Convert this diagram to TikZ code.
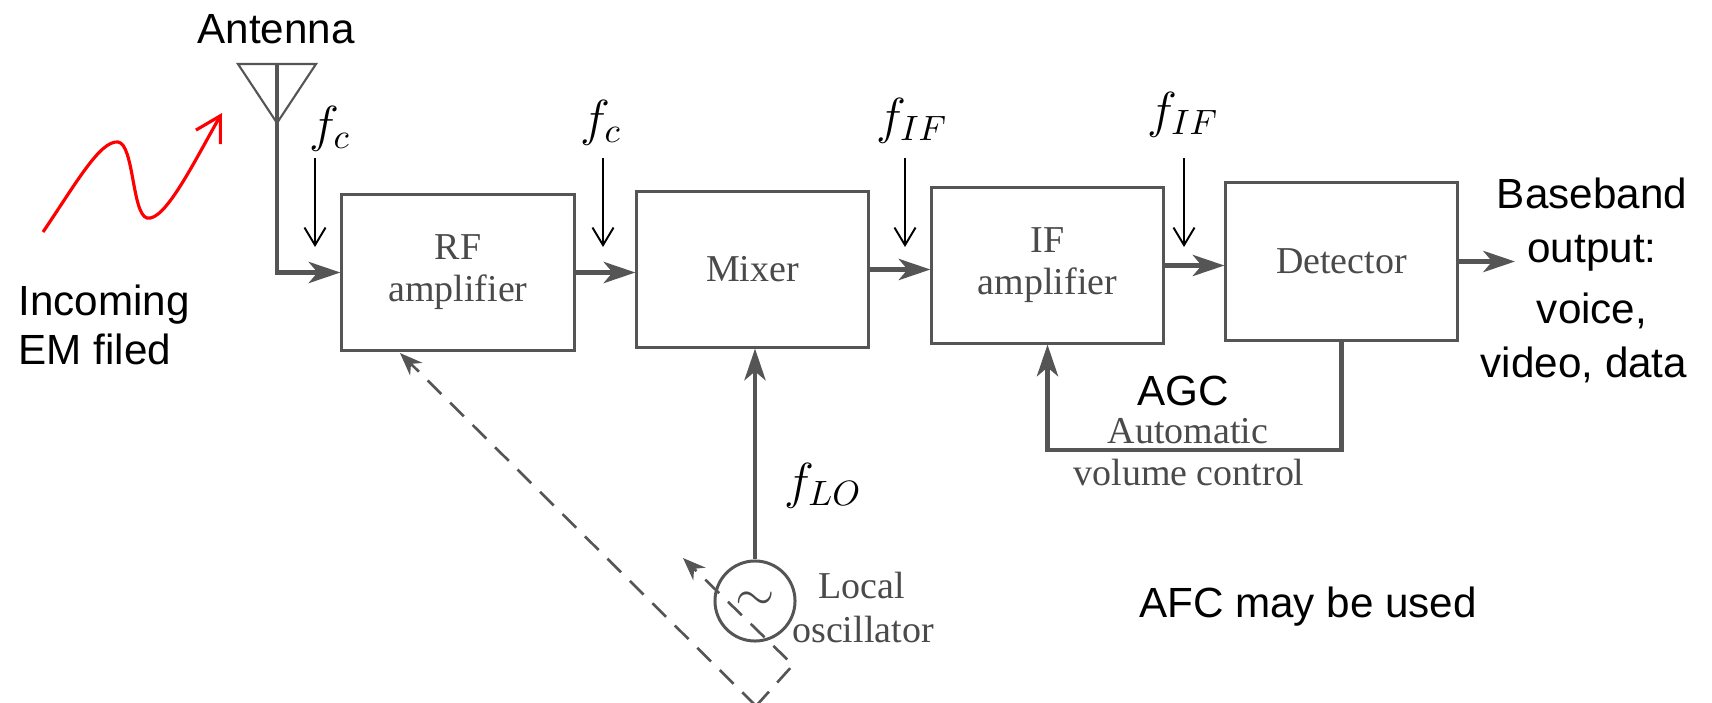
\documentclass[tikz,border=0pt]{standalone}
\usepackage{fontspec}
\setmainfont{Liberation Sans}
\newfontfamily\timesf{Liberation Serif}
\usetikzlibrary{arrows.meta}
\definecolor{boxgray}{HTML}{555555}
\definecolor{txtgray}{HTML}{4A4A4A}
\tikzset{
 blk/.style={draw=boxgray, line width=0.85pt, rectangle, inner sep=0pt, font=\timesf\fontsize{10.8}{12}\selectfont, text=txtgray, align=center},
 sig/.style={draw=boxgray, line width=1.4pt, -{Stealth[length=9pt,width=6pt,inset=2.5pt]}},
 freq/.style={black, line width=0.55pt, -{Straight Barb[length=5pt,width=6pt]}},
 mlabel/.style={anchor=base, inner sep=0pt, font=\fontsize{14.4}{16}\selectfont},
 sans/.style={anchor=base, inner sep=0pt, font=\fontsize{12}{14}\selectfont, text=black},
 afc/.style={draw=boxgray, line width=0.75pt, dash pattern=on 5.5pt off 3.5pt, -{Stealth[length=6.5pt,width=5pt]}},
 serif/.style={anchor=base, inner sep=0pt, font=\timesf\fontsize{10.8}{12}\selectfont, text=txtgray, align=center},
}
\begin{document}
\begin{tikzpicture}[x=0.01cm, y=-0.01cm]
\fill[white] (0,0) rectangle (1712,703);
\useasboundingbox (0,0) rectangle (1712,703);

% blocks
\node[blk, minimum width=2.32cm, minimum height=1.55cm] (RF) at (458,272.5) {RF\\amplifier};
\node[blk, minimum width=2.31cm, minimum height=1.55cm] (MX) at (752.5,269.5) {Mixer};
\node[blk, minimum width=2.31cm, minimum height=1.55cm] (IF) at (1047.5,265.5) {IF\\amplifier};
\node[blk, minimum width=2.31cm, minimum height=1.57cm] (DT) at (1341.5,261.5) {Detector};
\node[circle, draw=boxgray, line width=0.85pt, minimum size=0.8cm, inner sep=0pt, text=txtgray, font=\fontsize{14.4}{16}\selectfont] (osc) at (755,601) {$\sim$};

% antenna
\coordinate (tl) at (238,64);
\coordinate (tr) at (316,64);
\coordinate (tp) at (277,123);
\coordinate (mastTop) at (277,64);
\draw[boxgray, line width=0.6pt] (tl) -- (tr) -- (tp) -- cycle;
\draw[sig] (mastTop) |- (RF.west);

% signal chain
\coordinate (out) at (1515,261.5);
\draw[sig] (RF.east) -- (RF.east -| MX.west);
\draw[sig] (MX.east) -- (MX.east -| IF.west);
\draw[sig] (IF.east) -- (IF.east -| DT.west);
\draw[sig] (DT.east) -- (out);
\draw[sig] (osc.north) -- (osc.north |- MX.south);
\coordinate (agc) at (1047.5,450);
\draw[sig] (DT.south) |- (agc) -- (IF.south);

% AFC dashed loop
\coordinate (dA) at (400,353);
\coordinate (dV) at (756,706);
\coordinate (dC) at (793,665);
\coordinate (dB) at (683,558);
\draw[afc] (dV) -- (dA);
\draw[afc] (dV) -- (dC) -- (dB);

% frequency markers
\coordinate (f1s) at (315,158); \coordinate (f1e) at (315,247);
\coordinate (f2s) at (603,158); \coordinate (f2e) at (603,247);
\coordinate (f3s) at (905,158); \coordinate (f3e) at (905,247);
\coordinate (f4s) at (1184,158); \coordinate (f4e) at (1184,247);
\draw[freq] (f1s) -- (f1e);
\draw[freq] (f2s) -- (f2e);
\draw[freq] (f3s) -- (f3e);
\draw[freq] (f4s) -- (f4e);
\node[mlabel] (lfc1) at (330,141) {$f_c$};
\node[mlabel] (lfc2) at (601,135) {$f_c$};
\node[mlabel] (lif1) at (912,133) {$f_{IF}$};
\node[mlabel] (lif2) at (1183,127) {$f_{IF}$};
\node[mlabel] (llo) at (823,498) {$f_{LO}$};

% incoming wave
\coordinate (w0) at (43,232);
\coordinate (w1) at (222,113);
\draw[red, line width=0.9pt, -{Straight Barb[length=7pt,width=8pt]}]
  (w0) .. controls (75,185) and (100,140) .. (118,142)
       .. controls (134,144) and (132,214) .. (147,218)
       .. controls (165,222) and (195,160) .. (w1);

% annotations
\node[sans] (tant) at (276,43) {Antenna};
\node[sans, anchor=base west] (tinc) at (18,315) {Incoming};
\node[sans, anchor=base west] (tem) at (18,364) {EM filed};
\node[sans] (tbb) at (1592,208) {Baseband};
\node[sans] (tout) at (1592,262) {output:};
\node[sans] (tvoice) at (1592,323) {voice,};
\node[sans] (tvideo) at (1584,377) {video, data};
\node[sans] (tagc) at (1183,405) {AGC};
\node[sans] (tafc) at (1308,617) {AFC may be used};
\node[serif] (tauto) at (1188,443) {Automatic};
\node[serif] (tvol) at (1189,485) {volume control};
\node[serif] (tloc) at (862,598) {Local};
\node[serif] (tosc) at (863,642) {oscillator};
\end{tikzpicture}
\end{document}
